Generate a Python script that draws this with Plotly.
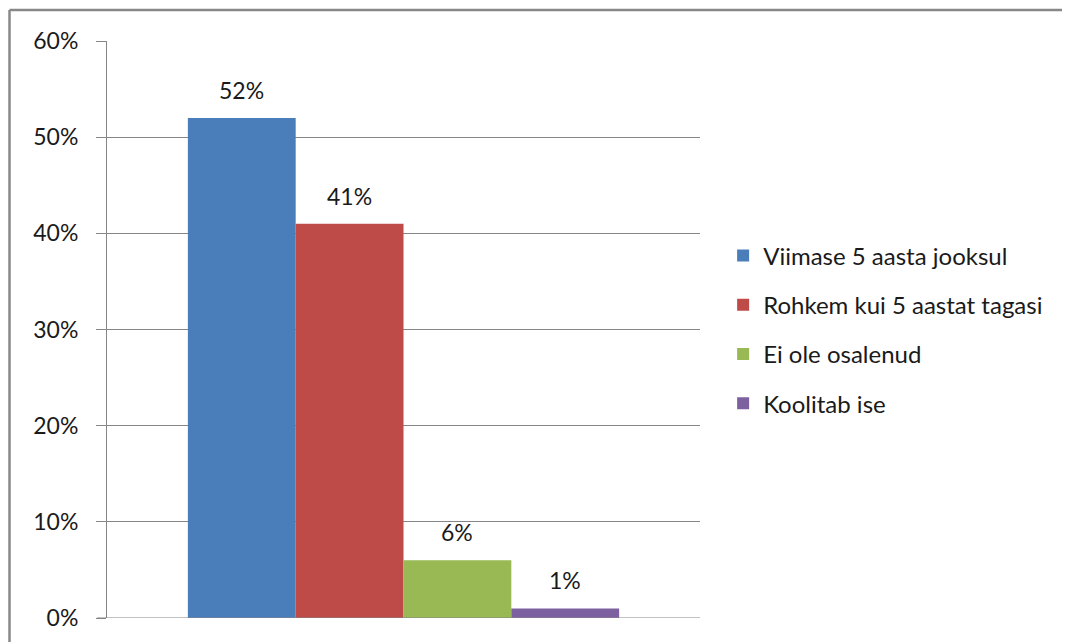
import plotly.graph_objects as go

# survey answers, share of respondents
series_names = [
    "Viimase 5 aasta jooksul",
    "Rohkem kui 5 aastat tagasi",
    "Ei ole osalenud",
    "Koolitab ise",
]
series_values = [0.52, 0.41, 0.06, 0.01]
series_colors = ["#4a7ebb", "#be4b48", "#98b954", "#7d60a0"]
y_ticks = [0, 0.1, 0.2, 0.3, 0.4, 0.5, 0.6]
y_tick_labels = ["0%", "10%", "20%", "30%", "40%", "50%", "60%"]

FONT = "Lato"
GRID = "#868686"
FRAME = "#888888"
TXT = "#1a1a1a"
PLOT_W = 593

fig = go.Figure()
for i, (name, val, col) in enumerate(zip(series_names, series_values, series_colors)):
    fig.add_trace(go.Bar(
        x=[i],
        y=[val],
        width=1,
        name=name,
        legendgroup=name,
        marker=dict(color=col, line=dict(width=0)),
    ))
    fig.add_annotation(
        x=i, y=val, xref="x", yref="y",
        text=f"{val:.0%}", showarrow=False,
        yanchor="bottom", yshift=12,
        font=dict(family=FONT, size=23, color=TXT),
    )

frame_left = -97.5 / PLOT_W
frame_top = 608 / 577

# page body adds an 8px margin, so the figure is drawn 8px smaller
fig.update_layout(
    width=1062,
    height=634,
    margin=dict(l=99, r=1062 - 99 - PLOT_W, t=33, b=24),
    paper_bgcolor="white",
    plot_bgcolor="white",
    barmode="overlay",
    font=dict(family=FONT, size=23, color=TXT),
    showlegend=True,
    legend=dict(
        x=1.039, xanchor="left", y=0.5, yanchor="middle",
        font=dict(family=FONT, size=24, color=TXT),
        tracegroupgap=15,
        itemwidth=30,
        bgcolor="rgba(0,0,0,0)",
    ),
    xaxis=dict(
        range=[-1.25, 4.25],
        showticklabels=False, showgrid=False, zeroline=False,
        showline=False, ticks="", fixedrange=True,
    ),
    yaxis=dict(
        range=[0, 0.6],
        tickvals=y_ticks,
        ticktext=y_tick_labels,
        showgrid=True, gridcolor=GRID, gridwidth=1,
        zeroline=False,
        showline=True, linecolor=GRID, linewidth=1,
        ticks="outside", ticklen=10, tickcolor=GRID,
        ticklabelstandoff=13,
        tickfont=dict(family=FONT, size=23, color=TXT),
    ),
    shapes=[
        # baseline at 0%
        dict(type="line", xref="paper", yref="y", x0=-10 / PLOT_W, x1=1,
             y0=0, y1=0, line=dict(color=GRID, width=1)),
        # outer chart frame: only top and left edges are in the picture
        dict(type="line", xref="paper", yref="paper",
             x0=frame_left, x1=2.0, y0=frame_top, y1=frame_top,
             line=dict(color=FRAME, width=2.5), layer="above"),
        dict(type="line", xref="paper", yref="paper",
             x0=frame_left, x1=frame_left, y0=-0.2, y1=frame_top,
             line=dict(color=FRAME, width=2.5), layer="above"),
    ],
)

fig.write_html("out.html")
